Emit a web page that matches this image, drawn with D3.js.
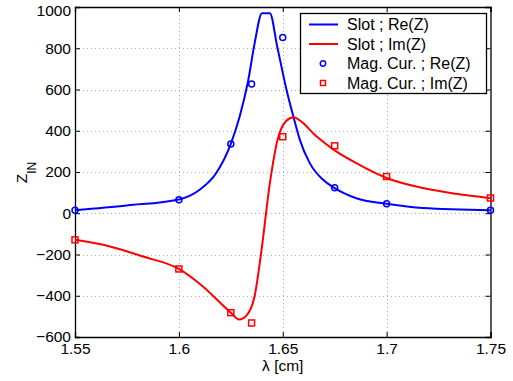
<!DOCTYPE html>
<html>
<head>
<meta charset="utf-8">
<script src="https://cdn.jsdelivr.net/npm/d3@7"></script>
<style>
  body { margin: 0; background: #fff; }
  svg { display: block; }
</style>
</head>
<body>
<div id="chart"></div>
<script>
// Slot ; Re(Z) (solid blue line)
const slotReLambda = [1.55, 1.575, 1.6, 1.61, 1.618, 1.625, 1.6293, 1.6333, 1.6365, 1.640, 1.6438, 1.6473, 1.6518, 1.6553, 1.6582, 1.663, 1.6694, 1.675, 1.6854, 1.7, 1.7175, 1.75];
const slotReValue  = [15, 38, 67, 114, 195, 336, 470, 640, 826, 970, 970, 810, 599, 462, 357, 243, 162, 122, 73, 46, 25, 15];

// Slot ; Im(Z) (solid red line)
const slotImLambda = [1.55, 1.5668, 1.5828, 1.6, 1.6117, 1.625, 1.629, 1.6326, 1.6365, 1.6398, 1.6438, 1.6473, 1.6515, 1.6553, 1.6582, 1.6662, 1.675, 1.6854, 1.7, 1.7175, 1.7335, 1.75];
const slotImValue  = [-129, -161, -210, -270, -356, -482, -515, -495, -400, -177, 146, 348, 446, 465, 450, 373, 305, 243, 171, 122, 94, 73];

// Mag. Cur. markers
const magLambda  = [1.55, 1.6, 1.625, 1.635, 1.65, 1.675, 1.7, 1.75];
const magReValue = [15, 65, 336, 627, 852, 124, 46, 15];
const magImValue = [-129, -270, -482, -532, 371, 327, 178, 74];

const xTicks = [1.55, 1.6, 1.65, 1.7, 1.75];
const yTicks = [-600, -400, -200, 0, 200, 400, 600, 800, 1000];

const width = 513, height = 381;
const margin = { top: 7, right: 22, bottom: 44, left: 75 };
const FONT = '"Liberation Sans", Arial, Helvetica, sans-serif';
const fs = 15.5;

const svg = d3.select('#chart')
    .append('svg')
    .attr('width', width)
    .attr('height', height)
    .attr('font-family', FONT);

const x = d3.scaleLinear()
    .domain([1.55, 1.75])
    .range([margin.left, width - margin.right - 0.5]);

const y = d3.scaleLinear()
    .domain([-600, 1000])
    .range([height - margin.bottom, margin.top]);

const fmtX = d => d === 1.6 ? '1.6' : d === 1.7 ? '1.7' : String(d);
const fmtY = d => d < 0 ? '\u2212' + Math.abs(d) : String(d);

// grid
const grid = svg.append('g').attr('stroke', '#b0b0b0').attr('stroke-dasharray', '1,3').attr('stroke-width', 1);
grid.selectAll('.gx')
    .data(xTicks.slice(1, -1))
    .join('line')
    .attr('x1', d => Math.round(x(d)) + 0.5).attr('x2', d => Math.round(x(d)) + 0.5)
    .attr('y1', y(1000)).attr('y2', y(-600));
grid.selectAll('.gy')
    .data(yTicks.slice(1, -1))
    .join('line')
    .attr('y1', d => Math.round(y(d)) + 0.5).attr('y2', d => Math.round(y(d)) + 0.5)
    .attr('x1', x(1.55)).attr('x2', x(1.75));

// axes (inward ticks on all four sides, matlab style)
const xAxis = g => g
    .attr('transform', `translate(0,${y(-600)})`)
    .call(d3.axisBottom(x).tickValues(xTicks).tickSize(-5).tickPadding(5.5).tickFormat(fmtX));
const xAxisTop = g => g
    .attr('transform', `translate(0,${y(1000)})`)
    .call(d3.axisTop(x).tickValues(xTicks).tickSize(-5).tickFormat(''));
const yAxis = g => g
    .attr('transform', `translate(${x(1.55)},0)`)
    .call(d3.axisLeft(y).tickValues(yTicks).tickSize(-5).tickPadding(4).tickFormat(fmtY));
const yAxisRight = g => g
    .attr('transform', `translate(${x(1.75)},0)`)
    .call(d3.axisRight(y).tickValues(yTicks).tickSize(-5).tickFormat(''));

[xAxis, xAxisTop, yAxis, yAxisRight].forEach(ax => {
    svg.append('g')
        .attr('class', 'axis')
        .call(ax)
        .attr('font-family', FONT)
        .call(g => g.selectAll('path').attr('stroke', '#000').attr('stroke-width', 1.3))
        .call(g => g.selectAll('line').attr('stroke', '#000'))
        .call(g => g.selectAll('text').attr('fill', '#000').attr('font-size', fs));
});
// top label sits a little lower so it stays inside the window, as in the picture
svg.selectAll('.axis text').filter(d => d === 1000).attr('dy', '0.55em');

// lines
const line = d3.line()
    .x(d => x(d[0]))
    .y(d => y(d[1]))
    .curve(d3.curveMonotoneX);

svg.append('path')
    .datum(slotReLambda.map((l, i) => [l, slotReValue[i]]))
    .attr('fill', 'none')
    .attr('stroke', '#0000ff')
    .attr('stroke-width', 2)
    .attr('d', line);

svg.append('path')
    .datum(slotImLambda.map((l, i) => [l, slotImValue[i]]))
    .attr('fill', 'none')
    .attr('stroke', '#ff0000')
    .attr('stroke-width', 2)
    .attr('d', line);

// markers
svg.append('g')
    .selectAll('circle')
    .data(magLambda.map((l, i) => [l, magReValue[i]]))
    .join('circle')
    .attr('cx', d => x(d[0]))
    .attr('cy', d => y(d[1]))
    .attr('r', 3)
    .attr('fill', 'none')
    .attr('stroke', '#0000ff')
    .attr('stroke-width', 1.5);

svg.append('g')
    .selectAll('rect')
    .data(magLambda.map((l, i) => [l, magImValue[i]]))
    .join('rect')
    .attr('x', d => x(d[0]) - 3)
    .attr('y', d => y(d[1]) - 3)
    .attr('width', 6)
    .attr('height', 6)
    .attr('fill', 'none')
    .attr('stroke', '#ff0000')
    .attr('stroke-width', 1.5);

// axis labels
svg.append('text')
    .attr('x', (x(1.55) + x(1.75)) / 2)
    .attr('y', 370.5)
    .attr('text-anchor', 'middle')
    .attr('font-size', fs)
    .text('\u03bb [cm]');

const yl = svg.append('text')
    .attr('transform', `translate(26.5,172.5) rotate(-90)`)
    .attr('text-anchor', 'middle')
    .attr('font-size', fs);
yl.append('tspan').text('Z');
yl.append('tspan').attr('font-size', 12).attr('dy', 9).text('IN');

// legend
const legendItems = [
    { label: 'Slot ; Re(Z)', color: '#0000ff', type: 'line' },
    { label: 'Slot ; Im(Z)', color: '#ff0000', type: 'line' },
    { label: 'Mag. Cur. ; Re(Z)', color: '#0000ff', type: 'circle' },
    { label: 'Mag. Cur. ; Im(Z)', color: '#ff0000', type: 'square' }
];
const legend = svg.append('g').attr('transform', 'translate(300,13)');
legend.append('rect')
    .attr('x', 0.5).attr('y', 0.5)
    .attr('width', 186).attr('height', 80)
    .attr('fill', '#fff')
    .attr('stroke', '#000')
    .attr('stroke-width', 1.3);
const rows = legend.selectAll('g.row')
    .data(legendItems)
    .join('g')
    .attr('transform', (d, i) => `translate(0,${11.5 + i * 19.5})`);
rows.filter(d => d.type === 'line').append('line')
    .attr('x1', 9).attr('x2', 38)
    .attr('stroke', d => d.color).attr('stroke-width', 2);
rows.filter(d => d.type === 'circle').append('circle')
    .attr('cx', 23).attr('r', 2.7)
    .attr('fill', 'none').attr('stroke', d => d.color).attr('stroke-width', 1.5);
rows.filter(d => d.type === 'square').append('rect')
    .attr('x', 20.5).attr('y', -2.5).attr('width', 5).attr('height', 5)
    .attr('fill', 'none').attr('stroke', d => d.color).attr('stroke-width', 1.5);
rows.append('text')
    .attr('x', 47)
    .attr('dy', '0.36em')
    .attr('font-size', 16)
    .text(d => d.label);
</script>
</body>
</html>
